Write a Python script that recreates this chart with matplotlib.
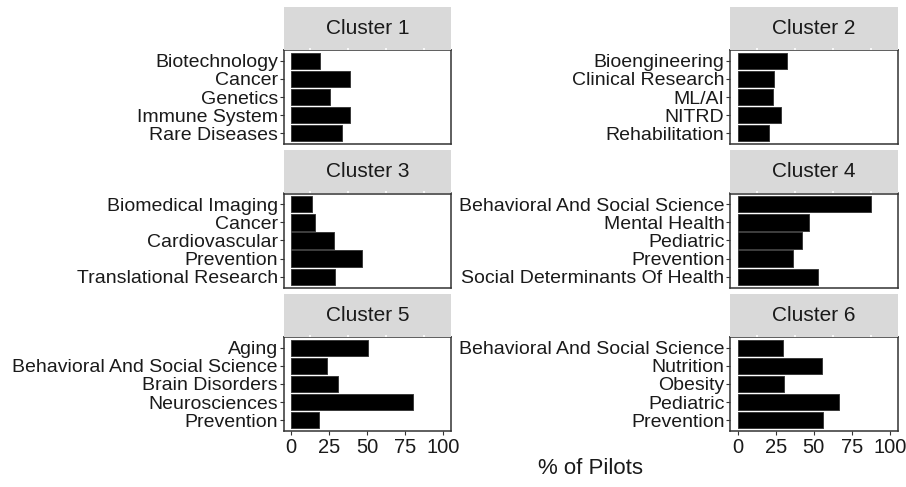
import matplotlib
matplotlib.use("Agg")

import matplotlib.pyplot as plt

plt.rcParams["font.family"] = ["Liberation Sans", "DejaVu Sans"]

clusters = ["Cluster 1", "Cluster 2", "Cluster 3", "Cluster 4", "Cluster 5", "Cluster 6"]

topics_1 = ["Biotechnology", "Cancer", "Genetics", "Immune System", "Rare Diseases"]
pct_1 = [19.2, 38.5, 25.3, 38.5, 33.6]

topics_2 = ["Bioengineering", "Clinical Research", "ML/AI", "NITRD", "Rehabilitation"]
pct_2 = [32.7, 24.1, 23.4, 28.7, 20.8]

topics_3 = ["Biomedical Imaging", "Cancer", "Cardiovascular", "Prevention", "Translational Research"]
pct_3 = [13.4, 16.0, 27.9, 46.3, 28.6]

topics_4 = ["Behavioral And Social Science", "Mental Health", "Pediatric", "Prevention",
            "Social Determinants Of Health"]
pct_4 = [87.9, 46.6, 42.2, 36.7, 52.6]

topics_5 = ["Aging", "Behavioral And Social Science", "Brain Disorders", "Neurosciences", "Prevention"]
pct_5 = [50.3, 23.3, 30.5, 80.0, 18.0]

topics_6 = ["Behavioral And Social Science", "Nutrition", "Obesity", "Pediatric", "Prevention"]
pct_6 = [29.8, 55.2, 30.4, 66.3, 55.8]

x_ticks = [0, 25, 50, 75, 100]

topics = [topics_1, topics_2, topics_3, topics_4, topics_5, topics_6]
pcts = [pct_1, pct_2, pct_3, pct_4, pct_5, pct_6]

W, H = 906, 487
fig = plt.figure(figsize=(W / 100, H / 100), dpi=100)

col_x = [283.5, 730.0]
panel_w = 167.5
row_top = [50.0, 193.5, 337.0]
panel_h = 94.0
strip_h = 43.0

text_col = "#1a1a1a"
border_col = "#333333"

for i, name in enumerate(clusters):
    r, c = divmod(i, 2)
    x0 = col_x[c]
    y0 = row_top[r]

    ax = fig.add_axes([x0 / W, 1 - (y0 + panel_h) / H, panel_w / W, panel_h / H])
    ypos = list(range(len(topics[i])))
    ax.barh(ypos, pcts[i], height=0.9, color="black", edgecolor="#3a3a3a", linewidth=0.7)
    ax.set_xlim(-5, 105)
    ax.set_ylim(len(ypos) - 0.4, -0.6)
    ax.set_yticks(ypos)
    ax.set_yticklabels(topics[i], fontsize=14, color=text_col)
    ax.tick_params(axis="y", length=3, width=0.8, color="#333333", pad=1)
    ax.set_xticks(x_ticks)
    if r == 2:
        ax.set_xticklabels([str(t) for t in x_ticks], fontsize=14.5, color=text_col)
        ax.tick_params(axis="x", length=3, width=0.8, color="#333333", pad=2)
    else:
        ax.tick_params(axis="x", length=0, labelbottom=False)
    for sp in ax.spines.values():
        sp.set_color(border_col)
        sp.set_linewidth(1.1)

    sax = fig.add_axes([x0 / W, 1 - y0 / H, panel_w / W, strip_h / H])
    sax.set_facecolor("#d9d9d9")
    sax.set_xlim(-5, 105)
    sax.set_ylim(0, 1)
    sax.vlines([12.5, 37.5, 62.5, 87.5], 0, 0.05, color="white", linewidth=1.2)
    sax.set_xticks([])
    sax.set_yticks([])
    for sp in sax.spines.values():
        sp.set_visible(False)
    sax.text(50, 0.5, name, ha="center", va="center", fontsize=15, color=text_col)

fig.text((col_x[0] + col_x[1] + panel_w) / 2 / W, 1 - 469 / H, "% of Pilots",
         ha="center", va="center", fontsize=16, color=text_col)

fig.savefig("out.png", dpi=100)
